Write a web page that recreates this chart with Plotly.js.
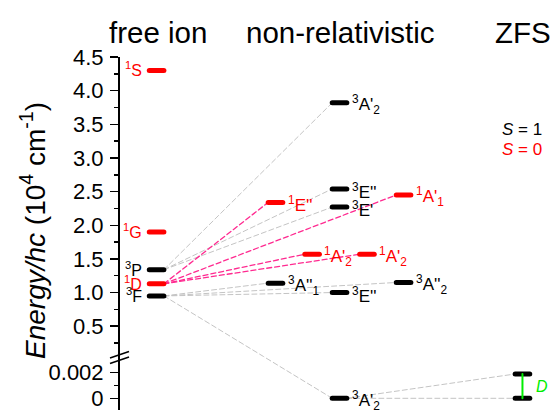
<!DOCTYPE html>
<html><head><meta charset="utf-8">
<script src="https://cdn.plot.ly/plotly-3.0.1.min.js"></script>
<style>body{margin:0;background:#fff}.js-line{stroke-linecap:round}</style>
</head><body><div id="chart" style="width:551px;height:410px"></div>
<script>
// ---------------- data ----------------
// column positions (arbitrary x units)
const colFree = 0, colZFS = 10;
const columnTitles = ['free ion', 'non-relativistic', 'ZFS'];
const columnTitleX = [0, 5, 10];

// free-ion terms, energy in 10^4 cm^-1
const freeIonLabels = ['<sup>1</sup>S', '<sup>1</sup>G', '<sup>3</sup>P', '<sup>1</sup>D', '<sup>3</sup>F'];
const freeIonEnergy = [4.30, 1.90, 1.34, 1.13, 0.95];
const freeIonSpin   = [0, 0, 1, 0, 1];

// non-relativistic states
const nrLabels = ["<sup>3</sup>A'<sub>2</sub>", "<sup>3</sup>E''", "<sup>3</sup>E'", "<sup>1</sup>E''",
                  "<sup>1</sup>A'<sub>1</sub>", "<sup>1</sup>A'<sub>2</sub>", "<sup>1</sup>A'<sub>2</sub>",
                  "<sup>3</sup>A''<sub>1</sub>", "<sup>3</sup>A''<sub>2</sub>", "<sup>3</sup>E''",
                  "<sup>3</sup>A'<sub>2</sub>"];
const nrEnergy = [3.82, 2.54, 2.27, 2.34, 2.45, 1.57, 1.57, 1.14, 1.15, 1.00, 0];
const nrColumn = [5, 5, 5, 3.25, 6.75, 4.25, 5.75, 3.25, 6.75, 5, 5];
const nrSpin   = [1, 1, 1, 0, 0, 0, 0, 1, 1, 1, 1];
const nrParent = [2, 2, 2, 3, 3, 3, 3, 4, 4, 4, 4];   // index of free-ion term
const groundIndex = 10;

// zero-field splitting of the ground state (10^4 cm^-1)
const zfsEnergy = [0, 0.0019];
const zfsLabel = '<i>D</i>';

const spinLegend = ['<i>S</i> = 1', '<i>S</i> = 0'];

// ---------------- styles ----------------
const FONT = 'Arial, "Liberation Sans", sans-serif';
const W = 551, H = 410, ML = 120, MT = 57, MB = 0, MR = 0;
const PH = H - MT - MB, PW = W - ML - MR;
const split = (H - MB - 356.5) / PH;
const UP = {domain: [split, 1], range: [0.05, 4.5]};
const LO = {domain: [0, split], range: [-0.000914, 0.003266]};
const hw = 0.2;
const spinColor = ['#ff0000', '#000000'];
const lineColor = ['#ff2a90', '#c4c4c4'];
const lineWidth = [1.3, 1];
const DASH = '5px,3px';

function toPaper(v, ax) { return ax.domain[0] + (v - ax.range[0]) / (ax.range[1] - ax.range[0]) * (ax.domain[1] - ax.domain[0]); }
function fromPaper(p, ax) { return ax.range[0] + (p - ax.domain[0]) / (ax.domain[1] - ax.domain[0]) * (ax.range[1] - ax.range[0]); }
function onUpper(e) { return e >= UP.range[0]; }
const px2x = px => (px - ML) / PW;
const py2p = py => (H - MB - py) / PH;

const traces = [];
const annotations = [];

// connecting dashed lines
nrEnergy.forEach((e, i) => {
  const p = nrParent[i];
  const x0 = colFree + hw, x1 = nrColumn[i] - hw;
  const y0 = freeIonEnergy[p];
  const ln = {color: lineColor[nrSpin[i]], width: lineWidth[nrSpin[i]], dash: DASH};
  if (onUpper(e)) {
    traces.push({x: [x0, x1], y: [y0, e], yaxis: 'y2', mode: 'lines', line: ln, hoverinfo: 'skip'});
  } else {
    traces.push({x: [x0, x1], y: [y0, fromPaper(toPaper(e, LO), UP)], yaxis: 'y2', mode: 'lines', line: ln, hoverinfo: 'skip'});
    traces.push({x: [x0, x1], y: [fromPaper(toPaper(y0, UP), LO), e], yaxis: 'y', mode: 'lines', line: ln, hoverinfo: 'skip'});
  }
});
zfsEnergy.forEach(e => {
  traces.push({x: [nrColumn[groundIndex] + hw, colZFS - hw], y: [nrEnergy[groundIndex], e], yaxis: 'y',
    mode: 'lines', line: {color: lineColor[1], width: 1, dash: DASH}, hoverinfo: 'skip'});
});

// level bars
function bar(xc, e, color, ax) {
  traces.push({x: [xc - hw, xc + hw], y: [e, e], yaxis: ax, mode: 'lines',
    line: {color: color, width: 5}, hoverinfo: 'skip'});
}
freeIonEnergy.forEach((e, i) => {
  bar(colFree, e, spinColor[freeIonSpin[i]], 'y2');
  annotations.push({x: colFree - hw, y: e, xref: 'x', yref: 'y2', xanchor: 'right', yanchor: 'middle',
    xshift: -5, yshift: 1, text: freeIonLabels[i], showarrow: false,
    font: {family: FONT, size: 16, color: spinColor[freeIonSpin[i]]}});
});
nrEnergy.forEach((e, i) => {
  const ax = onUpper(e) ? 'y2' : 'y';
  bar(nrColumn[i], e, spinColor[nrSpin[i]], ax);
  annotations.push({x: nrColumn[i] + hw, y: e, xref: 'x', yref: ax, xanchor: 'left', yanchor: 'middle',
    xshift: 3, yshift: -2, text: nrLabels[i], showarrow: false,
    font: {family: FONT, size: 17, color: spinColor[nrSpin[i]]}});
});
zfsEnergy.forEach(e => bar(colZFS, e, '#000000', 'y'));
traces.push({x: [colZFS, colZFS], y: zfsEnergy, yaxis: 'y', mode: 'lines',
  line: {color: '#00ee00', width: 2}, hoverinfo: 'skip'});
annotations.push({x: colZFS, y: (zfsEnergy[0] + zfsEnergy[1]) / 2, xref: 'x', yref: 'y', xanchor: 'left',
  yanchor: 'middle', xshift: 12, text: zfsLabel, showarrow: false,
  font: {family: FONT, size: 16, color: '#00ee00'}});

// column titles
columnTitles.forEach((t, i) => annotations.push({x: columnTitleX[i], y: py2p(33), xref: 'x', yref: 'paper',
  xanchor: 'center', yanchor: 'middle', xshift: 1, text: t, showarrow: false, font: {family: FONT, size: 29.5, color: '#000'}}));
// spin legend
spinLegend.forEach((t, i) => annotations.push({x: colZFS, y: py2p(129 + 20 * i), xref: 'x', yref: 'paper',
  xanchor: 'center', yanchor: 'middle', text: t, showarrow: false,
  font: {family: FONT, size: 17, color: spinColor[1 - i]}}));
// y title
annotations.push({x: px2x(33), y: py2p(231), xref: 'paper', yref: 'paper', xanchor: 'center', yanchor: 'middle',
  textangle: -90, text: '<i>Energy/hc</i> (10<sup>4</sup> cm<sup>-1</sup>)', showarrow: false,
  font: {family: FONT, size: 28, color: '#000'}});

const axCommon = {showline: true, linecolor: '#000', linewidth: 2, ticks: 'outside', ticklen: 8, tickwidth: 1.5,
  tickcolor: '#000', showgrid: false, zeroline: false, tickfont: {family: FONT, size: 22, color: '#000'},
  anchor: 'x', ticklabelstandoff: 2, ticklabeloverflow: 'allow'};

const layout = {
  width: W, height: H, margin: {l: ML, r: MR, t: MT, b: MB}, showlegend: false,
  paper_bgcolor: '#fff', plot_bgcolor: '#fff',
  xaxis: {range: [-1, 10.78], visible: false, fixedrange: true, anchor: 'y'},
  yaxis: Object.assign({}, axCommon, {domain: LO.domain, range: LO.range, tickmode: 'array',
    tickvals: [0, 0.002], ticktext: ['0', '0.002'],
    minor: {tickmode: 'array', tickvals: [0.001], ticklen: 4, tickwidth: 1.5, ticks: 'outside', tickcolor: '#000'}}),
  yaxis2: Object.assign({}, axCommon, {domain: UP.domain, range: UP.range, tick0: 0, dtick: 0.5, tickformat: '.1f',
    minor: {dtick: 0.25, tick0: 0, ticklen: 4, tickwidth: 1.5, ticks: 'outside', tickcolor: '#000'}}),
  annotations: annotations,
  shapes: [
    {type: 'line', xref: 'paper', yref: 'paper', x0: px2x(110), y0: py2p(358), x1: px2x(129), y1: py2p(351.5), line: {color: '#000', width: 1.5}},
    {type: 'line', xref: 'paper', yref: 'paper', x0: px2x(110), y0: py2p(363.5), x1: px2x(129), y1: py2p(357), line: {color: '#000', width: 1.5}}
  ]
};
Plotly.newPlot('chart', traces, layout, {staticPlot: true, displayModeBar: false});
</script></body></html>
